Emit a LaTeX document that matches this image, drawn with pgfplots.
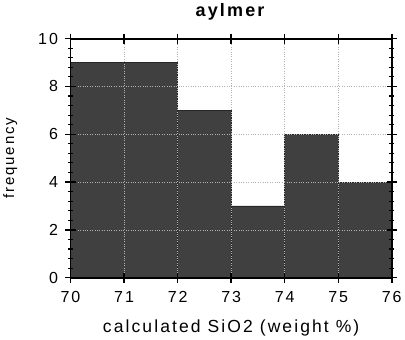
\documentclass[border=0pt]{standalone}
\usepackage{pgfplots}
\pgfplotsset{compat=1.18}
\usepackage{fontspec}
\setmainfont{Liberation Sans}[LetterSpace=12]
\begin{document}
\begin{tikzpicture}
\begin{axis}[
  scale only axis,
  width=320bp, height=238bp,
  xmin=70, xmax=76, ymin=0, ymax=10,
  xtick={70,71,...,76}, ytick={0,2,...,10},
  minor y tick num=4,
  tick align=center,
  major tick length=10bp, minor tick length=5bp,
  axis line style={line width=1.8pt},
  every tick/.style={black, line width=1.4pt},
  minor tick style={line width=1.1pt},
  grid=major,
  major grid style={gray!60, dotted, line width=0.6pt},
  axis on top,
  /pgf/number format/assume math mode=true,
  ticklabel style={font=\fontsize{16}{18}\selectfont},
  xticklabel style={yshift=-5bp},
  yticklabel style={xshift=-4bp},
  xlabel={calculated SiO2 (weight \%)},
  ylabel={frequency},
  xlabel style={font=\fontsize{17.5}{20}\selectfont, yshift=-10bp},
  ylabel style={font=\fontsize{15}{17}\selectfont, yshift=14bp},
  title={\textbf{aylmer}},
  title style={font=\fontsize{18}{20}\selectfont, yshift=9bp},
]
\addplot[ybar interval, fill=black!75, draw=black!85, line width=0.8pt]
  coordinates {(70,9) (72,7) (73,3) (74,6) (75,4) (76,4)};
\end{axis}
\end{tikzpicture}
\end{document}
